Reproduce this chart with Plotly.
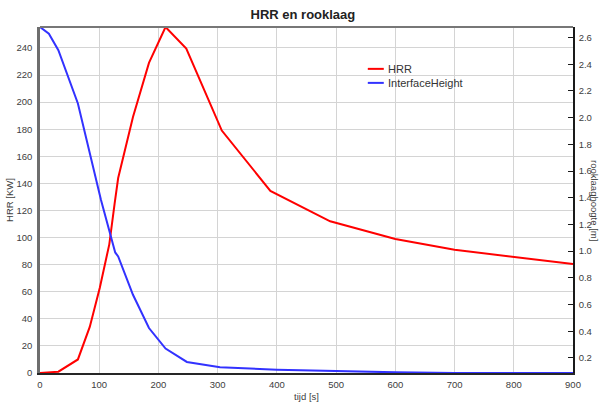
import plotly.graph_objects as go

# Heat release rate of the fire [kW] versus time [s]
hrr_time = [0, 31, 64, 84, 101, 117, 126, 132, 157, 184, 212, 247, 307, 389, 490, 600, 700, 800, 900]
hrr_value = [0, 1, 10, 34, 63, 95, 125, 144, 189, 229, 255.5, 239.5, 179, 134.5, 112, 99, 91, 85.5, 80.5]

# Smoke layer interface height [m] versus time [s]
layer_time = [0, 15, 31, 64, 103, 118, 127, 132, 157, 184, 212, 248, 304, 400, 495, 600, 700, 800, 900]
layer_height = [2.679, 2.629, 2.505, 2.106, 1.383, 1.134, 0.99, 0.96, 0.673, 0.424, 0.27, 0.17,
                0.13, 0.112, 0.1, 0.092, 0.087, 0.087, 0.087]

x_ticks = list(range(0, 901, 100))
left_ticks = list(range(0, 241, 20))
right_ticks = [round(0.2 * k, 1) for k in range(1, 14)]

FONT = "Liberation Sans, Arial, sans-serif"
TICK_COLOR = "#404040"
HRR_COLOR = "rgb(255,0,0)"
LAYER_COLOR = "rgb(50,50,255)"

fig = go.Figure()
fig.add_trace(go.Scatter(x=hrr_time, y=hrr_value, name="HRR", mode="lines",
                         line=dict(color=HRR_COLOR, width=2)))
fig.add_trace(go.Scatter(x=layer_time, y=layer_height, name="InterfaceHeight", mode="lines",
                         line=dict(color=LAYER_COLOR, width=2), yaxis="y2"))

# Compact legend: short line samples with the series names next to them
legend_shapes = []
legend_notes = []
for row, trace in enumerate(fig.data):
    y_row = 0.879 - row * 0.0405
    legend_shapes.append(dict(type="line", xref="paper", yref="paper", x0=0.615, x1=0.645,
                              y0=y_row, y1=y_row, line=dict(color=trace.line.color, width=2)))
    legend_notes.append(dict(text=trace.name, xref="paper", yref="paper", x=0.650, y=y_row,
                             xanchor="left", yanchor="middle", showarrow=False,
                             font=dict(family=FONT, size=11, color="#333333")))

fig.update_layout(
    width=601, height=407,
    margin=dict(l=40, r=28, t=27, b=34),
    paper_bgcolor="white", plot_bgcolor="white",
    font=dict(family=FONT, size=9.5, color=TICK_COLOR),
    title=dict(text="<b>HRR en rooklaag</b>", x=0.504, xanchor="center", y=0.965, yanchor="middle",
               font=dict(family=FONT, size=13, color="#222222")),
    showlegend=False,
    xaxis=dict(range=[0, 900], tickvals=x_ticks, showgrid=True, gridcolor="#d4d4d4", gridwidth=1,
               zeroline=False, showline=True, linecolor="#262626", linewidth=2, automargin=False,
               ticks="", tickfont=dict(size=9.5, color=TICK_COLOR), ticklabelstandoff=2,
               title=dict(text="tijd [s]", font=dict(size=9.5, color=TICK_COLOR), standoff=4)),
    yaxis=dict(range=[min(hrr_value), max(hrr_value)], tickvals=left_ticks, showgrid=True,
               gridcolor="#d4d4d4", gridwidth=1, zeroline=False, showline=True, automargin=False,
               linecolor="#6e6e6e", linewidth=2.5, ticks="", ticklabelstandoff=3,
               tickfont=dict(size=9.5, color=TICK_COLOR),
               title=dict(text="HRR [KW]", font=dict(size=9.5, color=TICK_COLOR), standoff=2)),
    yaxis2=dict(range=[min(layer_height), max(layer_height)], tickvals=right_ticks,
                tickformat=".1f", overlaying="y", side="right", showgrid=False, zeroline=False,
                showline=True, linecolor="#1a1a1a", linewidth=1.5, ticks="inside", ticklen=5,
                tickcolor="#1a1a1a", tickfont=dict(size=9.5, color=TICK_COLOR),
                ticklabelstandoff=2, automargin=False),
    shapes=[dict(type="line", xref="paper", yref="paper", x0=0, x1=1, y0=1, y1=1,
                 line=dict(color="#777777", width=2))] + legend_shapes,
    annotations=[dict(text="rooklaaghoogte [m]", xref="paper", yref="paper", x=1.0, xshift=22,
                      xanchor="center", y=0.5, yanchor="middle", textangle=90, showarrow=False,
                      font=dict(family=FONT, size=9.5, color=TICK_COLOR))] + legend_notes,
)

fig.write_html("out.html")
